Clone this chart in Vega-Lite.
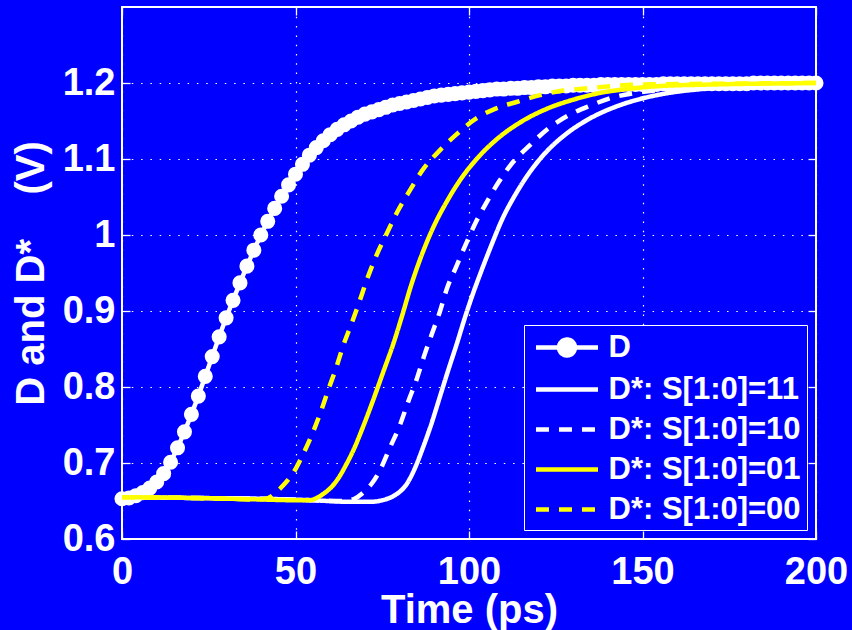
{
  "$schema": "https://vega.github.io/schema/vega-lite/v6.json",
  "width": 694,
  "height": 532,
  "autosize": {"type": "none"},
  "padding": {"left": 122, "top": 7, "right": 36, "bottom": 91},
  "background": "#0000FF",
  "config": {
    "view": {"stroke": "white", "strokeWidth": 2, "fill": "#0000FF"},
    "font": "Liberation Sans"
  },
  "datasets": {
    "D": [
      {"series":"D","t":0,"v":0.653},{"series":"D","t":2,"v":0.654},{"series":"D","t":4,"v":0.657},{"series":"D","t":6,"v":0.661},{"series":"D","t":8,"v":0.667},{"series":"D","t":10,"v":0.675},{"series":"D","t":12,"v":0.686},{"series":"D","t":14,"v":0.701},{"series":"D","t":16,"v":0.72},{"series":"D","t":18,"v":0.741},{"series":"D","t":20,"v":0.764},{"series":"D","t":22,"v":0.788},{"series":"D","t":24,"v":0.814},{"series":"D","t":26,"v":0.84},{"series":"D","t":28,"v":0.866},{"series":"D","t":30,"v":0.891},{"series":"D","t":32,"v":0.914},{"series":"D","t":34,"v":0.937},{"series":"D","t":36,"v":0.959},{"series":"D","t":38,"v":0.98},{"series":"D","t":40,"v":1.0},{"series":"D","t":42,"v":1.018},{"series":"D","t":44,"v":1.035},{"series":"D","t":46,"v":1.051},{"series":"D","t":48,"v":1.066},{"series":"D","t":50,"v":1.08},{"series":"D","t":52,"v":1.093},{"series":"D","t":54,"v":1.105},{"series":"D","t":56,"v":1.115},{"series":"D","t":58,"v":1.124},{"series":"D","t":60,"v":1.132},{"series":"D","t":62,"v":1.139},{"series":"D","t":64,"v":1.145},{"series":"D","t":66,"v":1.15},{"series":"D","t":68,"v":1.155},{"series":"D","t":70,"v":1.159},{"series":"D","t":72,"v":1.162},{"series":"D","t":74,"v":1.165},{"series":"D","t":76,"v":1.168},{"series":"D","t":78,"v":1.171},{"series":"D","t":80,"v":1.173},{"series":"D","t":82,"v":1.175},{"series":"D","t":84,"v":1.177},{"series":"D","t":86,"v":1.179},{"series":"D","t":88,"v":1.181},{"series":"D","t":90,"v":1.183},{"series":"D","t":92,"v":1.184},{"series":"D","t":94,"v":1.185},{"series":"D","t":96,"v":1.186},{"series":"D","t":98,"v":1.187},{"series":"D","t":100,"v":1.188},{"series":"D","t":102,"v":1.189},{"series":"D","t":104,"v":1.19},{"series":"D","t":106,"v":1.191},{"series":"D","t":108,"v":1.192},{"series":"D","t":110,"v":1.192},{"series":"D","t":112,"v":1.193},{"series":"D","t":114,"v":1.193},{"series":"D","t":116,"v":1.194},{"series":"D","t":118,"v":1.194},{"series":"D","t":120,"v":1.195},{"series":"D","t":122,"v":1.195},{"series":"D","t":124,"v":1.196},{"series":"D","t":126,"v":1.196},{"series":"D","t":128,"v":1.196},{"series":"D","t":130,"v":1.197},{"series":"D","t":132,"v":1.197},{"series":"D","t":134,"v":1.197},{"series":"D","t":136,"v":1.197},{"series":"D","t":138,"v":1.198},{"series":"D","t":140,"v":1.198},{"series":"D","t":142,"v":1.198},{"series":"D","t":144,"v":1.198},{"series":"D","t":146,"v":1.198},{"series":"D","t":148,"v":1.198},{"series":"D","t":150,"v":1.198},{"series":"D","t":152,"v":1.198},{"series":"D","t":154,"v":1.198},{"series":"D","t":156,"v":1.199},{"series":"D","t":158,"v":1.199},{"series":"D","t":160,"v":1.199},{"series":"D","t":162,"v":1.199},{"series":"D","t":164,"v":1.199},{"series":"D","t":166,"v":1.199},{"series":"D","t":168,"v":1.199},{"series":"D","t":170,"v":1.199},{"series":"D","t":172,"v":1.199},{"series":"D","t":174,"v":1.199},{"series":"D","t":176,"v":1.199},{"series":"D","t":178,"v":1.199},{"series":"D","t":180,"v":1.199},{"series":"D","t":182,"v":1.2},{"series":"D","t":184,"v":1.2},{"series":"D","t":186,"v":1.2},{"series":"D","t":188,"v":1.2},{"series":"D","t":190,"v":1.2},{"series":"D","t":192,"v":1.2},{"series":"D","t":194,"v":1.2},{"series":"D","t":196,"v":1.2},{"series":"D","t":198,"v":1.2},{"series":"D","t":200,"v":1.2}
    ],
    "Dstar": [
      {"series":"D*: S[1:0]=11","t":0,"v":0.655},{"series":"D*: S[1:0]=11","t":20,"v":0.654},{"series":"D*: S[1:0]=11","t":40,"v":0.653},{"series":"D*: S[1:0]=11","t":55,"v":0.651},{"series":"D*: S[1:0]=11","t":65,"v":0.649},{"series":"D*: S[1:0]=11","t":72,"v":0.649},{"series":"D*: S[1:0]=11","t":75,"v":0.651},{"series":"D*: S[1:0]=11","t":78,"v":0.656},{"series":"D*: S[1:0]=11","t":80,"v":0.662},{"series":"D*: S[1:0]=11","t":82,"v":0.672},{"series":"D*: S[1:0]=11","t":84.4,"v":0.693},{"series":"D*: S[1:0]=11","t":86.8,"v":0.721},{"series":"D*: S[1:0]=11","t":89.2,"v":0.752},{"series":"D*: S[1:0]=11","t":91.6,"v":0.787},{"series":"D*: S[1:0]=11","t":94,"v":0.822},{"series":"D*: S[1:0]=11","t":96.5,"v":0.857},{"series":"D*: S[1:0]=11","t":98.8,"v":0.891},{"series":"D*: S[1:0]=11","t":101,"v":0.921},{"series":"D*: S[1:0]=11","t":103.5,"v":0.952},{"series":"D*: S[1:0]=11","t":106.4,"v":0.986},{"series":"D*: S[1:0]=11","t":109.7,"v":1.022},{"series":"D*: S[1:0]=11","t":113.6,"v":1.055},{"series":"D*: S[1:0]=11","t":117.4,"v":1.082},{"series":"D*: S[1:0]=11","t":122.2,"v":1.109},{"series":"D*: S[1:0]=11","t":128,"v":1.133},{"series":"D*: S[1:0]=11","t":134.7,"v":1.153},{"series":"D*: S[1:0]=11","t":142.4,"v":1.169},{"series":"D*: S[1:0]=11","t":150.2,"v":1.18},{"series":"D*: S[1:0]=11","t":157.7,"v":1.187},{"series":"D*: S[1:0]=11","t":167,"v":1.192},{"series":"D*: S[1:0]=11","t":180,"v":1.196},{"series":"D*: S[1:0]=11","t":200,"v":1.199},
      {"series":"D*: S[1:0]=10","t":0,"v":0.655},{"series":"D*: S[1:0]=10","t":20,"v":0.654},{"series":"D*: S[1:0]=10","t":40,"v":0.653},{"series":"D*: S[1:0]=10","t":55,"v":0.651},{"series":"D*: S[1:0]=10","t":64,"v":0.65},{"series":"D*: S[1:0]=10","t":67,"v":0.653},{"series":"D*: S[1:0]=10","t":69.5,"v":0.661},{"series":"D*: S[1:0]=10","t":72,"v":0.673},{"series":"D*: S[1:0]=10","t":74.4,"v":0.691},{"series":"D*: S[1:0]=10","t":77.2,"v":0.72},{"series":"D*: S[1:0]=10","t":80.1,"v":0.75},{"series":"D*: S[1:0]=10","t":82.5,"v":0.781},{"series":"D*: S[1:0]=10","t":84.9,"v":0.81},{"series":"D*: S[1:0]=10","t":87,"v":0.84},{"series":"D*: S[1:0]=10","t":89.4,"v":0.871},{"series":"D*: S[1:0]=10","t":91.6,"v":0.899},{"series":"D*: S[1:0]=10","t":93.6,"v":0.929},{"series":"D*: S[1:0]=10","t":96.3,"v":0.958},{"series":"D*: S[1:0]=10","t":99.1,"v":0.988},{"series":"D*: S[1:0]=10","t":102,"v":1.017},{"series":"D*: S[1:0]=10","t":105.2,"v":1.044},{"series":"D*: S[1:0]=10","t":108.6,"v":1.07},{"series":"D*: S[1:0]=10","t":112.7,"v":1.096},{"series":"D*: S[1:0]=10","t":117.5,"v":1.118},{"series":"D*: S[1:0]=10","t":122.8,"v":1.14},{"series":"D*: S[1:0]=10","t":128.5,"v":1.157},{"series":"D*: S[1:0]=10","t":134.8,"v":1.17},{"series":"D*: S[1:0]=10","t":141.5,"v":1.181},{"series":"D*: S[1:0]=10","t":148,"v":1.187},{"series":"D*: S[1:0]=10","t":158,"v":1.192},{"series":"D*: S[1:0]=10","t":170,"v":1.196},{"series":"D*: S[1:0]=10","t":185,"v":1.198},{"series":"D*: S[1:0]=10","t":200,"v":1.199},
      {"series":"D*: S[1:0]=01","t":0,"v":0.655},{"series":"D*: S[1:0]=01","t":20,"v":0.654},{"series":"D*: S[1:0]=01","t":40,"v":0.652},{"series":"D*: S[1:0]=01","t":50,"v":0.651},{"series":"D*: S[1:0]=01","t":54,"v":0.651},{"series":"D*: S[1:0]=01","t":56.5,"v":0.655},{"series":"D*: S[1:0]=01","t":58.5,"v":0.661},{"series":"D*: S[1:0]=01","t":60.5,"v":0.669},{"series":"D*: S[1:0]=01","t":62.5,"v":0.681},{"series":"D*: S[1:0]=01","t":64.5,"v":0.697},{"series":"D*: S[1:0]=01","t":66.7,"v":0.717},{"series":"D*: S[1:0]=01","t":69.5,"v":0.748},{"series":"D*: S[1:0]=01","t":72.4,"v":0.783},{"series":"D*: S[1:0]=01","t":75.3,"v":0.82},{"series":"D*: S[1:0]=01","t":78.2,"v":0.857},{"series":"D*: S[1:0]=01","t":80.8,"v":0.895},{"series":"D*: S[1:0]=01","t":83.2,"v":0.932},{"series":"D*: S[1:0]=01","t":86.4,"v":0.974},{"series":"D*: S[1:0]=01","t":89.7,"v":1.01},{"series":"D*: S[1:0]=01","t":93.6,"v":1.044},{"series":"D*: S[1:0]=01","t":97.4,"v":1.072},{"series":"D*: S[1:0]=01","t":102.2,"v":1.1},{"series":"D*: S[1:0]=01","t":108,"v":1.126},{"series":"D*: S[1:0]=01","t":114.7,"v":1.148},{"series":"D*: S[1:0]=01","t":122.4,"v":1.166},{"series":"D*: S[1:0]=01","t":130,"v":1.178},{"series":"D*: S[1:0]=01","t":137.8,"v":1.187},{"series":"D*: S[1:0]=01","t":145.4,"v":1.192},{"series":"D*: S[1:0]=01","t":155,"v":1.196},{"series":"D*: S[1:0]=01","t":170,"v":1.198},{"series":"D*: S[1:0]=01","t":200,"v":1.2},
      {"series":"D*: S[1:0]=00","t":0,"v":0.655},{"series":"D*: S[1:0]=00","t":10,"v":0.6545},{"series":"D*: S[1:0]=00","t":20,"v":0.654},{"series":"D*: S[1:0]=00","t":30,"v":0.653},{"series":"D*: S[1:0]=00","t":38,"v":0.652},{"series":"D*: S[1:0]=00","t":41,"v":0.6525},{"series":"D*: S[1:0]=00","t":43,"v":0.656},{"series":"D*: S[1:0]=00","t":45,"v":0.664},{"series":"D*: S[1:0]=00","t":47.9,"v":0.678},{"series":"D*: S[1:0]=00","t":50,"v":0.692},{"series":"D*: S[1:0]=00","t":51.8,"v":0.708},{"series":"D*: S[1:0]=00","t":54.7,"v":0.737},{"series":"D*: S[1:0]=00","t":57.1,"v":0.765},{"series":"D*: S[1:0]=00","t":59.5,"v":0.797},{"series":"D*: S[1:0]=00","t":61.7,"v":0.825},{"series":"D*: S[1:0]=00","t":63.8,"v":0.855},{"series":"D*: S[1:0]=00","t":66.2,"v":0.884},{"series":"D*: S[1:0]=00","t":68.4,"v":0.912},{"series":"D*: S[1:0]=00","t":70.8,"v":0.944},{"series":"D*: S[1:0]=00","t":73.4,"v":0.974},{"series":"D*: S[1:0]=00","t":76.3,"v":1.002},{"series":"D*: S[1:0]=00","t":79.4,"v":1.031},{"series":"D*: S[1:0]=00","t":83,"v":1.059},{"series":"D*: S[1:0]=00","t":86.7,"v":1.086},{"series":"D*: S[1:0]=00","t":91.3,"v":1.11},{"series":"D*: S[1:0]=00","t":96.3,"v":1.132},{"series":"D*: S[1:0]=00","t":102,"v":1.153},{"series":"D*: S[1:0]=00","t":107.5,"v":1.166},{"series":"D*: S[1:0]=00","t":113.7,"v":1.175},{"series":"D*: S[1:0]=00","t":120.5,"v":1.184},{"series":"D*: S[1:0]=00","t":127.2,"v":1.19},{"series":"D*: S[1:0]=00","t":134,"v":1.193},{"series":"D*: S[1:0]=00","t":141.6,"v":1.196},{"series":"D*: S[1:0]=00","t":150,"v":1.198},{"series":"D*: S[1:0]=00","t":170,"v":1.199},{"series":"D*: S[1:0]=00","t":200,"v":1.2}
    ]
  },
  "layer": [
    {
      "data": {"name": "D"},
      "mark": {"type": "line", "strokeWidth": 4.5, "clip": false, "point": {"filled": true, "size": 227, "opacity": 1}},
      "encoding": {
        "x": {"field": "t", "type": "quantitative", "scale": {"domain": [0, 200], "nice": false, "zero": false},
          "axis": {"orient": "top", "values": [0, 50, 100, 150, 200], "labels": false, "grid": false, "domain": false, "title": null, "tickSize": -8, "tickColor": "white", "tickWidth": 1.3}},
        "y": {"field": "v", "type": "quantitative", "scale": {"domain": [0.6, 1.3], "nice": false, "zero": false},
          "axis": {"orient": "right", "values": [0.6, 0.7, 0.8, 0.9, 1.0, 1.1, 1.2], "labels": false, "grid": false, "domain": false, "title": null, "tickSize": -8, "tickColor": "white", "tickWidth": 1.3}},
        "color": {"field": "series", "type": "nominal",
          "scale": {"domain": ["D", "D*: S[1:0]=11", "D*: S[1:0]=10", "D*: S[1:0]=01", "D*: S[1:0]=00"], "range": ["#FFFFFF", "#FFFFFF", "#FFFFFF", "#FFFF00", "#FFFF00"]},
          "legend": {
            "orient": "bottom-right", "offset": 9, "title": null,
            "symbolType": "stroke", "symbolSize": 841, "symbolStrokeWidth": 4.5,
            "symbolOffset": 20.5, "labelOffset": 24.5,
            "labelFontSize": 31, "labelFont": "Liberation Sans", "labelFontWeight": "bold", "labelColor": "white", "labelLimit": 400,
            "padding": 5.5, "rowPadding": 8, "strokeColor": "white", "fillColor": "#0000FF",
            "encode": {"symbols": {"update": {
              "shape": {"signal": "datum.value === 'D' ? 'M-2.14,0L2.14,0M0.55,0A0.55,0.55,0,1,1,-0.55,0A0.55,0.55,0,1,1,0.55,0Z' : 'M-2.14,0L2.14,0'"},
              "strokeDash": {"signal": "(datum.value === 'D*: S[1:0]=10' || datum.value === 'D*: S[1:0]=00') ? [13, 10] : [1, 0]"},
              "fill": {"signal": "datum.value === 'D' ? '#FFFFFF' : 'transparent'"},
              "fillOpacity": {"value": 1},
              "opacity": {"value": 1}
            }}}
          }
        }
      }
    },
    {
      "data": {"name": "Dstar"},
      "mark": {"type": "line", "strokeWidth": 4.5, "clip": false, "interpolate": "monotone"},
      "encoding": {
        "x": {"field": "t", "type": "quantitative", "scale": {"domain": [0, 200], "nice": false, "zero": false},
          "axis": {"orient": "bottom", "values": [0, 50, 100, 150, 200], "grid": true, "gridColor": "white", "gridDash": [1.5, 7.8], "gridWidth": 1.2, "domain": false,
            "tickSize": -8, "tickColor": "white", "tickWidth": 1.3,
            "labelFontSize": 38, "labelFontWeight": "bold", "labelColor": "white", "labelFont": "Liberation Sans", "labelBaseline": "alphabetic", "labelPadding": 52, "labelFlush": false, "labelOverlap": false,
            "title": "Time (ps)", "titleFontSize": 40, "titleFontWeight": "bold", "titleColor": "white", "titleFont": "Liberation Sans", "titleBaseline": "alphabetic", "titleAlign": "center", "titleX": 347, "titleY": 83}},
        "y": {"field": "v", "type": "quantitative", "scale": {"domain": [0.6, 1.3], "nice": false, "zero": false},
          "axis": {"orient": "left", "values": [0.6, 0.7, 0.8, 0.9, 1.0, 1.1, 1.2], "format": ".2~f", "grid": true, "gridColor": "white", "gridDash": [1.5, 7.8], "gridWidth": 1.2, "domain": false,
            "tickSize": -8, "tickColor": "white", "tickWidth": 1.3,
            "labelFontSize": 38, "labelFontWeight": "bold", "labelColor": "white", "labelFont": "Liberation Sans", "labelBaseline": "middle", "labelPadding": 15, "labelOverlap": false,
            "title": "D and D*\u00a0\u00a0\u00a0\u00a0(V)", "titleFontSize": 40, "titleFontWeight": "bold", "titleColor": "white", "titleFont": "Liberation Sans", "titleAngle": 270, "titleBaseline": "alphabetic", "titleAlign": "center", "titleX": -79, "titleY": 266}},
        "color": {"field": "series", "type": "nominal",
          "scale": {"domain": ["D", "D*: S[1:0]=11", "D*: S[1:0]=10", "D*: S[1:0]=01", "D*: S[1:0]=00"], "range": ["#FFFFFF", "#FFFFFF", "#FFFFFF", "#FFFF00", "#FFFF00"]}},
        "strokeDash": {"field": "series", "type": "nominal", "legend": null,
          "scale": {"domain": ["D", "D*: S[1:0]=11", "D*: S[1:0]=10", "D*: S[1:0]=01", "D*: S[1:0]=00"], "range": [[1, 0], [1, 0], [13, 10], [1, 0], [13, 10]]}}
      }
    }
  ],
  "resolve": {"axis": {"x": "independent", "y": "independent"}}
}
